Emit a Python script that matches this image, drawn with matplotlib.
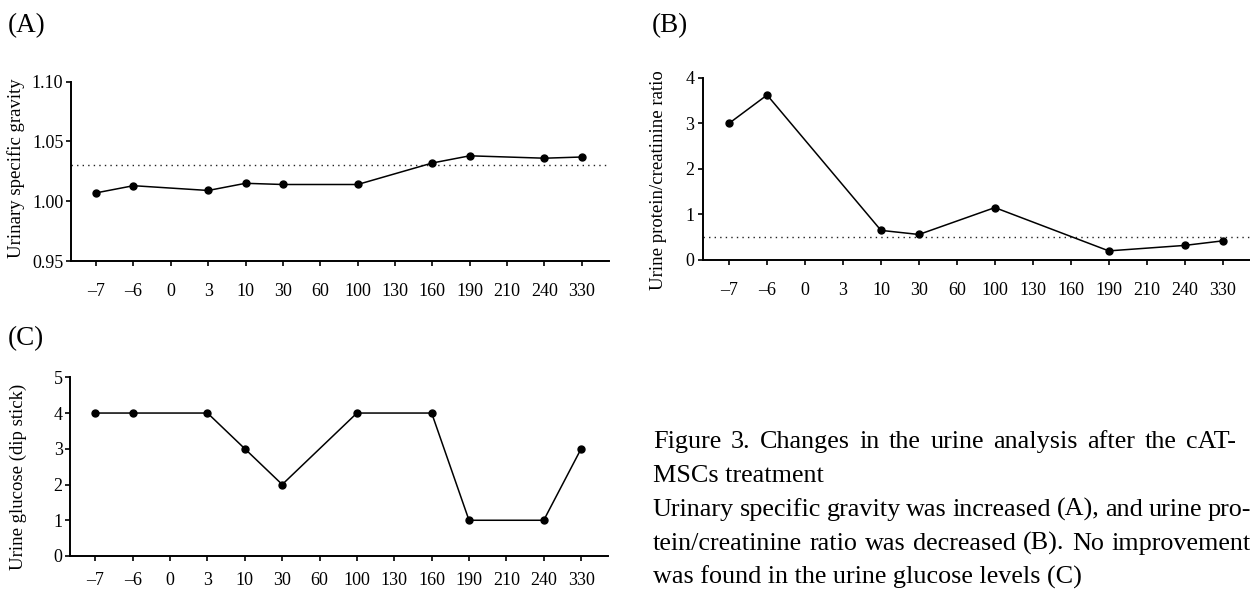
import matplotlib
matplotlib.use("Agg")
import matplotlib.pyplot as plt

plt.rcParams['font.family'] = ['Liberation Serif', 'DejaVu Serif']

# ---------------- data ----------------
day_labels = ['\u20137', '\u20136', '0', '3', '10', '30', '60', '100', '130',
              '160', '190', '210', '240', '330']

a_days = ['\u20137', '\u20136', '3', '10', '30', '100', '160', '190', '240', '330']
a_values = [1.007, 1.013, 1.009, 1.015, 1.014, 1.014, 1.032, 1.038, 1.036, 1.037]
a_reference = 1.030
a_yticks = [0.95, 1.00, 1.05, 1.10]
a_ylabel = 'Urinary specific gravity'

b_days = ['\u20137', '\u20136', '10', '30', '100', '190', '240', '330']
b_values = [3.00, 3.62, 0.65, 0.56, 1.15, 0.20, 0.32, 0.42]
b_reference = 0.5
b_yticks = [0, 1, 2, 3, 4]
b_ylabel = 'Urine protein/creatinine ratio'

c_days = ['\u20137', '\u20136', '3', '10', '30', '100', '160', '190', '240', '330']
c_values = [4, 4, 4, 3, 2, 4, 4, 1, 1, 3]
c_yticks = [0, 1, 2, 3, 4, 5]
c_ylabel = 'Urine glucose (dip stick)'

caption_lines = [
    'Figure 3. Changes in the urine analysis after the cAT-',
    'MSCs treatment',
    'Urinary specific gravity was increased (A), and urine pro-',
    'tein/creatinine ratio was decreased (B). No improvement',
    'was found in the urine glucose levels (C)',
]
caption_justified = [True, False, True, True, False]

# ---------------- figure ----------------
W, H = 1250, 590
fig = plt.figure(figsize=(W / 100, H / 100), dpi=100)


def px_axes(left, top, right, bottom):
    return fig.add_axes([left / W, 1 - bottom / H, (right - left) / W, (bottom - top) / H])


def style(ax, yticks, ylabel, xpad, ypad, label_x, label_y, yfmt=None):
    ax.set_xlim(-0.68, 13.72)
    ax.set_ylim(yticks[0], yticks[-1])
    ax.set_xticks(range(len(day_labels)))
    ax.set_xticklabels(day_labels)
    ax.set_yticks(yticks)
    if yfmt:
        ax.set_yticklabels([yfmt.format(v) for v in yticks])
    for s in ['top', 'right']:
        ax.spines[s].set_visible(False)
    for s in ['left', 'bottom']:
        ax.spines[s].set_linewidth(1.4)
    ax.tick_params(axis='x', direction='out', length=3.8, width=1.2, labelsize=13, pad=xpad)
    ax.tick_params(axis='y', direction='out', length=3.8, width=1.2, labelsize=13, pad=ypad)
    ax.set_ylabel(ylabel, fontsize=13.5)
    ax.yaxis.set_label_coords(label_x, label_y)


def plot_series(ax, days, values):
    xs = [day_labels.index(d) for d in days]
    ax.plot(xs, values, color='black', lw=1.1, marker='o', ms=5.0, zorder=3,
            clip_on=False)


# Panel A
axA = px_axes(70.7, 81.7, 608.7, 261)
plot_series(axA, a_days, a_values)
axA.axhline(a_reference, color='#222222', lw=1.0, ls=(0, (1, 3)))
style(axA, a_yticks, a_ylabel, xpad=12, ypad=1.5, label_x=-0.085, label_y=0.52,
      yfmt='{:.2f}')

# Panel B
axB = px_axes(703.3, 77.7, 1250, 260)
plot_series(axB, b_days, b_values)
axB.axhline(b_reference, color='#222222', lw=1.0, ls=(0, (1, 3)))
style(axB, b_yticks, b_ylabel, xpad=12, ypad=2.5, label_x=-0.0665, label_y=0.44)

# Panel C
axC = px_axes(70.0, 377.3, 608.0, 556)
plot_series(axC, c_days, c_values)
style(axC, c_yticks, c_ylabel, xpad=8, ypad=1.5, label_x=-0.08, label_y=0.44)

# Panel letters
fig.text(8 / W, 1 - 32 / H, '(A)', fontsize=19.5, va='baseline', ha='left')
fig.text(652 / W, 1 - 32 / H, '(B)', fontsize=19.5, va='baseline', ha='left')
fig.text(8 / W, 1 - 345 / H, '(C)', fontsize=19.5, va='baseline', ha='left')

# Caption (justified like the journal layout, with a cap on word spacing)
renderer = fig.canvas.get_renderer()
cap_left = 652.7
cap_right = 1251.0
cap_size = 18.8
max_gap = 9.5
baselines = [448, 482, 516, 550, 584]
for line, b, just in zip(caption_lines, baselines, caption_justified):
    y = 1 - b / H
    if not just:
        fig.text(cap_left / W, y, line, fontsize=cap_size, va='baseline', ha='left')
        continue
    words = line.split(' ')
    widths = []
    for w in words:
        t = fig.text(0, 0, w, fontsize=cap_size)
        widths.append(t.get_window_extent(renderer).width)
        t.remove()
    gap = (cap_right - cap_left - sum(widths)) / (len(words) - 1)
    gap = min(gap, max_gap)
    x = cap_left
    for w, wd in zip(words, widths):
        fig.text(x / W, y, w, fontsize=cap_size, va='baseline', ha='left')
        x += wd + gap

fig.savefig('out.png', dpi=100)
